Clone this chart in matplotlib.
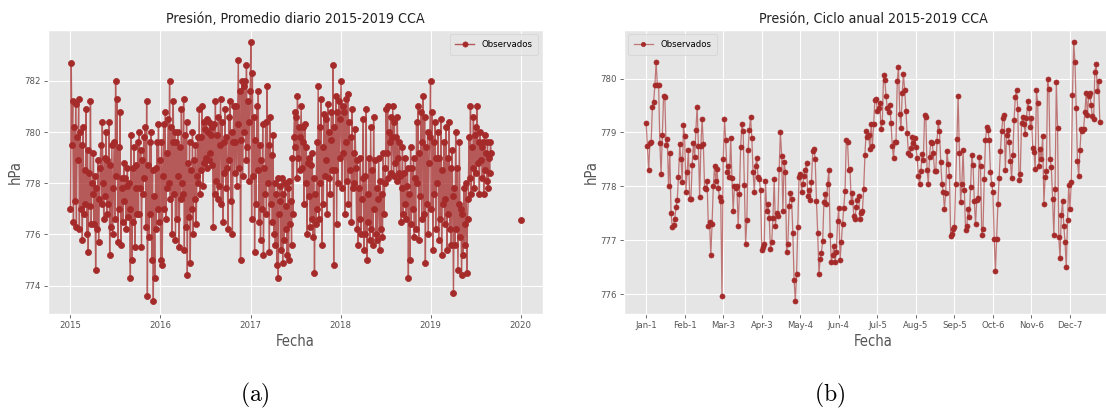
import numpy as np
import pandas as pd
import matplotlib
matplotlib.use("Agg")
import matplotlib.pyplot as plt
import matplotlib.dates as mdates

# ---------------- data ----------------
# Daily mean pressure 2015-2019 (read every 3rd day from the chart)
daily_start = "2015-01-01"
daily_values = [
    # 2015
    777.0, 782.7, 779.5, 781.2, 776.5, 780.2, 777.3, 781.1, 776.3, 779.8,
    778.9, 781.3, 776.2, 780.0, 777.0, 779.5, 775.8, 780.2, 776.8, 778.5,
    777.2, 780.9, 776.0, 779.3, 775.3, 778.4, 777.1, 781.2, 776.4, 778.0, 777.6,
    779.2, 776.4, 778.3, 774.6, 777.8, 776.2, 778.9, 775.7, 777.4, 778.6,
    779.5, 777.2, 780.4, 778.0, 776.6, 779.0, 777.5, 780.0, 776.8, 778.9,
    777.2, 780.4, 775.2, 778.7, 776.3, 779.5, 776.0, 777.8, 779.6, 776.6,
    782.0, 778.3, 781.3, 775.7, 779.4, 777.0, 780.8, 775.6, 778.2, 777.8,
    776.5, 778.8, 777.3, 778.2, 776.2, 777.9, 778.6, 776.7, 778.0, 777.0,
    774.3, 779.9, 775.0, 778.6, 776.5, 779.4, 775.5, 777.8, 778.7, 776.8,
    779.6, 776.8, 780.0, 777.8, 779.3, 775.5, 778.9, 777.6, 779.8, 778.2, 780.2,
    776.3, 781.2, 773.6, 778.7, 775.9, 779.6, 776.8, 780.0, 775.0, 778.5,
    773.4, 777.5, 774.3, 778.6, 776.2, 779.6, 777.0, 780.3, 776.5, 778.9,
    # 2016
    775.0, 779.6, 774.8, 778.3, 780.3, 777.0, 780.8, 776.6, 779.2, 777.8,
    780.5, 778.0, 782.0, 777.4, 780.2, 776.0, 779.6, 781.2, 777.6, 780.0,
    775.8, 779.6, 776.6, 780.0, 778.3, 775.5, 779.4, 777.4, 780.9, 778.0,
    777.6, 781.3, 775.4, 779.9, 776.3, 780.4, 774.4, 778.8, 776.7, 779.6,
    774.9, 778.5, 777.0, 780.0, 776.0, 778.9, 777.4, 779.5, 776.4, 778.3, 779.8,
    778.0, 780.9, 777.6, 779.8, 778.5, 781.0, 777.9, 780.4, 778.8, 780.1,
    779.0, 780.5, 778.6, 780.0, 778.9, 780.4, 779.2, 779.9, 778.7, 780.2,
    776.3, 780.3, 777.6, 781.2, 778.1, 779.9, 777.4, 780.6, 777.9, 779.5,
    781.3, 777.2, 780.4, 776.5, 779.6, 778.4, 780.9, 777.8, 779.8, 778.6,
    776.2, 780.6, 778.9, 781.2, 777.3, 780.0, 776.0, 779.6, 781.0, 778.4,
    779.6, 781.0, 777.9, 780.3, 782.8, 778.6, 781.6, 775.0, 779.7, 782.0,
    778.3, 781.8, 780.0, 782.0, 778.9, 782.6, 779.4, 781.2, 778.1, 780.4, 781.6,
    # 2017
    783.5, 776.6, 782.3, 778.3, 780.6, 775.3, 779.7, 777.2, 781.0, 778.5,
    781.6, 776.5, 779.5, 775.8, 778.9, 777.0, 780.3, 775.2, 778.6, 777.6,
    780.4, 776.8, 781.8, 778.0, 779.5, 775.3, 780.6, 777.2, 779.1, 776.5,
    779.9, 776.0, 778.0, 775.6, 777.6, 774.8, 778.2, 774.3, 776.8, 777.9,
    777.3, 775.4, 778.2, 774.9, 777.6, 775.8, 778.0, 776.2, 777.1, 775.2,
    777.8, 775.0, 778.1, 776.4, 777.3, 775.6, 779.0, 776.8, 779.8, 780.8,
    779.4, 780.6, 778.2, 781.4, 779.0, 780.2, 778.5, 779.8, 781.0, 778.6, 780.2,
    779.6, 777.2, 780.3, 778.0, 779.4, 776.0, 778.8, 777.5, 779.0, 776.3,
    778.7, 776.6, 779.2, 775.9, 778.2, 774.5, 777.6, 776.4, 779.6, 777.0,
    781.8, 776.6, 780.2, 778.0, 781.3, 775.6, 779.4, 777.2, 780.7, 778.3,
    778.9, 780.5, 776.8, 781.1, 778.2, 780.0, 777.6, 779.7, 780.8, 778.5,
    782.6, 774.8, 780.2, 778.5, 781.4, 776.4, 780.8, 778.0, 781.2, 779.0,
    # 2018
    780.5, 782.0, 777.8, 781.0, 779.2, 780.8, 776.8, 779.6, 781.3, 778.1,
    781.5, 777.2, 780.4, 778.5, 779.8, 776.5, 780.9, 777.8, 779.2, 778.0, 780.1,
    778.6, 776.2, 778.9, 775.6, 777.8, 776.6, 779.0, 776.0, 777.4, 778.2,
    780.5, 775.4, 778.3, 776.0, 780.9, 775.0, 777.6, 776.5, 779.0, 775.8,
    780.2, 776.2, 778.5, 775.6, 780.6, 777.0, 778.9, 776.0, 777.8, 775.8,
    777.4, 779.0, 775.4, 778.1, 776.2, 777.6, 775.9, 779.2, 776.8, 778.0,
    778.6, 780.9, 779.2, 781.0, 778.2, 780.0, 779.6, 780.6, 778.4, 779.8,
    781.0, 778.3, 780.4, 778.8, 779.8, 778.1, 780.6, 779.0, 778.4, 779.6,
    778.3, 776.5, 777.8, 779.4, 776.8, 778.4, 777.2, 779.0, 776.6, 777.9, 778.6,
    774.3, 777.6, 775.0, 779.4, 776.4, 778.6, 777.0, 779.0, 775.9, 778.2,
    776.2, 780.4, 778.0, 781.0, 775.8, 779.2, 777.5, 780.8, 776.6, 779.6,
    781.4, 776.8, 780.6, 774.9, 779.4, 777.2, 780.0, 776.0, 778.8, 779.8,
    # 2019
    782.0, 777.0, 780.8, 775.4, 779.6, 777.6, 780.4, 776.2, 779.0, 778.0,
    780.0, 775.8, 779.0, 776.6, 780.5, 775.2, 778.5, 777.2, 779.6, 776.4,
    777.4, 780.2, 775.4, 779.0, 776.8, 780.4, 776.2, 778.6, 775.6, 779.3, 777.5,
    773.7, 777.8, 775.6, 780.0, 776.2, 778.6, 774.6, 777.2, 779.6, 775.9,
    777.0, 774.4, 776.8, 775.2, 777.8, 775.6, 776.4, 778.0, 774.5, 776.6,
    777.4, 779.8, 778.2, 781.0, 777.6, 779.4, 778.6, 780.6, 777.8, 779.9,
    780.2, 778.4, 781.0, 778.8, 779.6, 777.6, 780.0, 778.9, 779.4, 778.2,
    779.6, 777.6, 779.9, 778.5, 779.2, 778.1, 779.6, 777.8, 779.0, 778.4,
    779.6, 779.2,
]
lone_date = "2020-01-01"
lone_value = 776.55

# Annual cycle (day of year 0..365)
cycle_values = [
    779.17, 778.75, 778.30, 778.80, 778.82, 779.47, 779.57, 779.88, 780.30, 779.88,
    779.88, 778.80, 778.23, 778.95, 779.67, 779.65, 778.77, 778.87, 778.00, 778.62,
    777.50, 777.25, 777.28, 777.40, 777.62, 777.75, 778.18, 778.78, 778.50, 778.08,
    779.13, 778.93, 777.90, 778.27, 778.67, 777.77, 777.77, 778.40, 778.80, 778.55,
    779.05, 779.48, 778.75, 777.80, 778.75, 779.25, 778.78, 777.97, 777.95, 778.10,
    777.27, 777.33, 776.72, 777.30, 778.00, 778.37, 778.10, 778.33, 777.97, 777.80,
    777.72, 775.96, 778.50, 779.25, 778.85, 778.27, 778.37, 778.17, 778.90, 778.15,
    777.55, 778.00, 777.97, 778.00, 777.27, 777.85, 778.73, 779.15, 779.03, 778.03,
    776.93, 777.37, 778.67, 779.05, 779.28, 778.90, 778.26, 777.90, 778.38, 778.52,
    778.17, 778.13, 777.93, 776.82, 776.88, 776.92, 778.10, 777.55, 777.68, 777.42,
    776.83, 776.97, 777.42, 778.13, 777.27, 777.50, 777.45, 778.32, 779.00, 778.57,
    777.55, 778.45, 778.27, 776.78, 776.93, 777.63, 777.88, 777.77, 777.13, 776.27,
    775.87, 776.38, 777.25, 778.17, 778.23, 777.90, 778.05, 778.20, 778.30, 778.43,
    777.82, 777.93, 777.75, 778.08, 778.65, 778.70, 778.50, 777.73, 777.13, 776.38,
    776.65, 776.77, 776.98, 777.70, 777.85, 777.68, 778.05, 778.30, 777.10, 776.60,
    776.72, 776.90, 776.60, 776.78, 777.35, 777.60, 776.63, 776.97, 777.30, 777.60,
    777.92, 778.85, 778.83, 778.30, 778.32, 777.70, 777.87, 777.45, 777.40, 777.62,
    777.75, 777.82, 777.40, 777.50, 777.55, 777.95, 778.58, 779.02, 778.92, 778.95,
    778.70, 779.15, 778.75, 779.15, 779.60, 779.62, 779.40, 779.45, 779.55, 779.07,
    779.20, 780.07, 779.97, 779.67, 779.45, 779.37, 779.50, 779.18, 778.75, 778.52,
    778.82, 778.83, 779.95, 780.22, 779.35, 779.08, 779.73, 780.08, 779.78, 779.40,
    778.98, 778.62, 778.58, 778.72, 778.92, 778.80, 778.90, 778.73, 778.53, 778.20,
    778.05, 778.28, 778.60, 778.48, 779.33, 779.28, 778.30, 778.05, 778.55, 778.83,
    778.80, 778.62, 778.28, 778.28, 778.84, 779.20, 779.03, 778.45, 778.05, 777.90,
    777.57, 777.87, 778.65, 778.42, 778.20, 777.07, 777.12, 777.20, 777.25, 778.05,
    778.88, 779.67, 778.62, 777.70, 778.05, 778.67, 777.93, 777.18, 777.27, 777.57,
    777.43, 777.98, 778.58, 778.40, 777.72, 777.30, 777.75, 777.78, 778.55, 778.38,
    777.10, 777.20, 778.13, 778.85, 779.10, 779.05, 778.85, 778.27, 778.05, 777.90,
    777.03, 776.43, 777.03, 777.67, 778.15, 778.65, 779.03, 779.27, 779.32, 778.30,
    778.95, 779.05, 778.82, 778.47, 778.15, 778.58, 779.23, 779.65, 779.78, 779.43,
    778.12, 778.22, 779.18, 779.28, 779.15, 778.97, 779.27, 779.58, 779.45, 779.10,
    779.27, 778.72, 778.63, 778.32, 779.78, 779.55, 778.37, 778.70, 778.50, 778.93,
    777.68, 778.17, 778.28, 780.00, 779.80, 778.50, 778.35, 777.77, 777.10, 777.95,
    779.93, 779.08, 777.05, 776.67, 777.47, 777.72, 777.27, 776.97, 776.50, 777.38,
    778.02, 777.58, 778.08, 779.70, 780.67, 780.30, 779.45, 778.47, 778.20, 778.67,
    779.07, 779.02, 779.07, 779.38, 779.73, 779.32, 779.67, 779.73, 779.50, 779.30,
    779.25, 780.12, 780.27, 779.77, 779.95, 779.20,
]
cycle_tick_days = [0, 31, 62, 93, 124, 155, 186, 217, 248, 279, 310, 341]
cycle_tick_labels = ["Jan-1", "Feb-1", "Mar-3", "Apr-3", "May-4", "Jun-4",
                     "Jul-5", "Aug-5", "Sep-5", "Oct-6", "Nov-6", "Dec-7"]

left_yticks = [774, 776, 778, 780, 782]
right_yticks = [776, 777, 778, 779, 780]

titles = ["Presión, Promedio diario 2015-2019 CCA", "Presión, Ciclo anual 2015-2019 CCA"]
series_label = "Observados"
ylabel = "hPa"
xlabel = "Fecha"
captions = ["(a)", "(b)"]

# ---------------- style ----------------
plt.style.use("ggplot")
plt.rcParams["mathtext.fontset"] = "cm"
plt.rcParams["font.family"] = ["DejaVu Sans"]
plt.rcParams["font.stretch"] = "condensed"

C = (165 / 255, 42 / 255, 42 / 255)
left_kw = dict(color=C + (0.75,), lw=1.0, marker="o", ms=4.4,
               markerfacecolor=C, markeredgecolor=C, mew=0.5)
right_kw = dict(color=C + (0.6,), lw=0.9, marker="o", ms=3.6,
                markerfacecolor=C, markeredgecolor=C, mew=0.5)

W, H = 1106, 412
fig = plt.figure(figsize=(W / 100, H / 100), dpi=100)
fig.patch.set_facecolor("white")

def ax_rect(x0, y0, x1, y1):
    return [x0 / W, 1 - y1 / H, (x1 - x0) / W, (y1 - y0) / H]

ax1 = fig.add_axes(ax_rect(48, 29.5, 543, 314))
ax2 = fig.add_axes(ax_rect(623.5, 29.5, 1122.5, 314))

# left: daily
dates = pd.date_range(daily_start, periods=len(daily_values), freq="3D")
ax1.plot(dates, daily_values, label=series_label, **left_kw)
ax1.plot([pd.Timestamp(lone_date)], [lone_value], **left_kw)
ax1.xaxis.set_major_locator(mdates.YearLocator())
ax1.xaxis.set_major_formatter(mdates.DateFormatter("%Y"))
ax1.set_yticks(left_yticks)

# right: annual cycle
days = np.arange(len(cycle_values))
ax2.plot(days, cycle_values, label=series_label, **right_kw)
ax2.set_xticks(cycle_tick_days)
ax2.set_xticklabels(cycle_tick_labels)
ax2.set_yticks(right_yticks)

for ax, loc in zip([ax1, ax2], ["upper right", "upper left"]):
    ax.legend(loc=loc, prop={"family": "DejaVu Sans", "stretch": "condensed", "size": 6.8},
              handlelength=2.0, borderpad=0.6, markerscale=0.85)

for ax, t in zip([ax1, ax2], titles):
    ax.set_title(t, fontsize=10.2, color="#222222", pad=5)
    ax.set_ylabel(ylabel, fontsize=10.5, color="#555555", labelpad=1)
    ax.set_xlabel(xlabel, fontsize=10.5, color="#555555", labelpad=3)
    ax.tick_params(length=3, width=0.6, pad=2, labelsize=6.8, labelcolor="#555555")

for xc, cap in zip([255, 830], captions):
    fig.text(xc / W, 1 - 395 / H, r"$\mathrm{%s}$" % cap, ha="center", va="center",
             fontsize=17, color="black")

fig.savefig("out.png", dpi=100)
